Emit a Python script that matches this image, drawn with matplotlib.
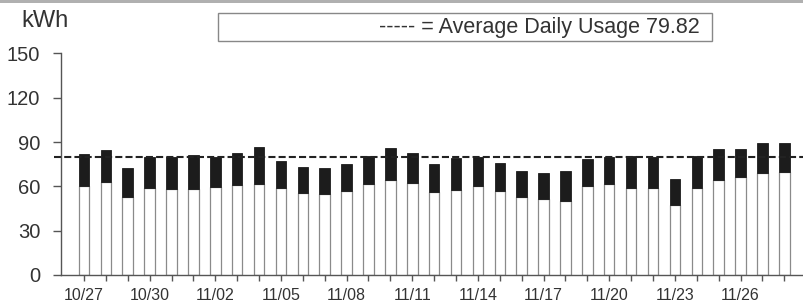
import matplotlib
matplotlib.use("Agg")
import matplotlib.pyplot as plt
from matplotlib.patches import Rectangle
from matplotlib.lines import Line2D

plt.rcParams['font.family'] = ['Liberation Sans', 'DejaVu Sans']

dates = ["10/27", "10/28", "10/29", "10/30", "10/31", "11/01", "11/02", "11/03",
         "11/04", "11/05", "11/06", "11/07", "11/08", "11/09", "11/10", "11/11",
         "11/12", "11/13", "11/14", "11/15", "11/16", "11/17", "11/18", "11/19",
         "11/20", "11/21", "11/22", "11/23", "11/24", "11/25", "11/26", "11/27",
         "11/28"]
totals = [81.7, 84.6, 72.7, 80.1, 79.7, 81.2, 79.7, 82.4, 86.9, 77.4, 73.3,
          72.2, 75.1, 80.8, 85.8, 82.8, 74.9, 79.0, 79.7, 75.6, 70.6, 68.8,
          70.6, 78.5, 79.7, 80.8, 79.7, 64.8, 80.4, 85.3, 85.3, 89.2, 89.6]
lower = [60.5, 62.8, 52.6, 59.1, 58.5, 58.2, 59.4, 60.9, 61.8, 59.1, 55.3,
         54.6, 56.9, 61.8, 64.3, 62.5, 56.2, 57.7, 60.3, 57.1, 52.8, 51.5,
         50.3, 60.0, 61.4, 58.7, 58.9, 47.6, 59.1, 64.1, 66.1, 68.8, 69.5]
average = 79.82
yticks = [0, 30, 60, 90, 120, 150]

upper = [t - l for t, l in zip(totals, lower)]
x = list(range(len(dates)))

fig = plt.figure(figsize=(8.04, 3.02), dpi=100)
ax = fig.add_axes([61/804, 27/302, 1 - 61/804, (275 - 53.5)/302])

ax.bar(x, lower, width=0.48, color='white', edgecolor='#8a8a8a', linewidth=0.9)
ax.bar(x, upper, bottom=lower, width=0.48, color='#1c1c1c', edgecolor='#1c1c1c', linewidth=0.6)

ax.set_xlim(-1.05, 32.9)
ax.set_ylim(0, 150)
ax.set_yticks(yticks)
ax.set_yticklabels([str(v) for v in yticks], fontsize=14.5, color='#333333')
ax.set_xticks(x)
ax.set_xticklabels([d if i % 3 == 0 else '' for i, d in enumerate(dates)],
                   fontsize=11.5, color='#333333')

for s in ['top', 'right']:
    ax.spines[s].set_visible(False)
for s in ['left', 'bottom']:
    ax.spines[s].set_color('#555555')
    ax.spines[s].set_linewidth(1.0)
ax.tick_params(axis='y', length=6, width=1, color='#555555', pad=9)
ax.tick_params(axis='x', length=4, width=1, color='#555555', pad=5)

# average line extends slightly left of axis
avg_line = Line2D([-1.35, 32.9], [average, average], color='#222222', linewidth=1.5,
                  linestyle=(0, (3.4, 1.5)), clip_on=False)
ax.add_line(avg_line)

fig.text(21/804, 1 - 21/302, "kWh", fontsize=17, color='#333333', va='center', ha='left')

# legend-like box
box = Rectangle((218/804, 1 - 40.7/302), (712 - 218)/804, 28/302, transform=fig.transFigure,
                facecolor='white', edgecolor='#888888', linewidth=1.0)
fig.patches.append(box)
fig.text(700/804, 1 - 27/302, "----- = Average Daily Usage 79.82", fontsize=15.5,
         color='#333333', va='center', ha='right')

# top border
fig.patches.append(Rectangle((0, 1 - 3/302), 1, 3/302, transform=fig.transFigure,
                             facecolor='#b0b0b0', edgecolor='none'))

fig.savefig("out.png", dpi=100)
